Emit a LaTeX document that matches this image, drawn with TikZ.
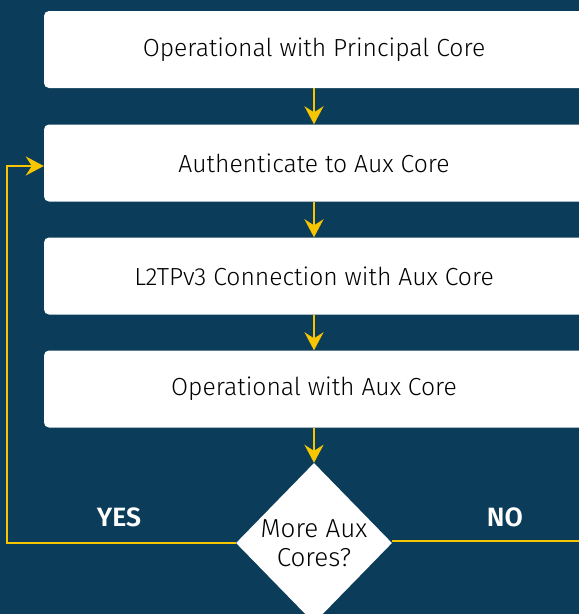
\documentclass[tikz,border=0pt]{standalone}
\usepackage{fontspec}
\setmainfont{Fira Sans}[UprightFont=* Light, BoldFont=* SemiBold]
\usetikzlibrary{arrows.meta,shapes.geometric}
\definecolor{bgnavy}{HTML}{0B3C59}
\definecolor{flowyellow}{HTML}{F7C600}
\tikzset{
  x=1pt, y=-1pt,
  stepbox/.style={draw=none, fill=white, rounded corners=5pt, minimum width=540pt,
    minimum height=77pt, text=black, font=\fontsize{24.7}{28}\selectfont,
    inner sep=0pt},
  flow/.style={draw=flowyellow, line width=2pt,
    -{Stealth[length=18pt, width=19pt, inset=6pt]}},
  plainflow/.style={draw=flowyellow, line width=2pt},
  decision/.style={diamond, fill=white, minimum width=156pt, minimum height=160pt,
    inner sep=0pt, align=center, text=black, font=\fontsize{26}{28.5}\selectfont},
  answer/.style={text=white, font=\bfseries\fontsize{26.5}{30}\selectfont}
}
\begin{document}
\begin{tikzpicture}
  \fill[bgnavy] (0,0) rectangle (579,614);
  \useasboundingbox (0,0) rectangle (579,614);
  \clip (0,0) rectangle (579,614);

  % process boxes, running past the right edge
  \node[stepbox] (op)   at (314,49.5) {Operational with Principal Core};
  \node[stepbox] (auth) at (314,163)  {Authenticate to Aux Core};
  \node[stepbox] (l2tp) at (314,276)  {L2TPv3 Connection with Aux Core};
  \node[stepbox] (aux)  at (314,389)  {Operational with Aux Core};

  % decision
  \node[decision] (more) at (314,543) {More Aux\\Cores?};

  % vertical flow
  \draw[flow] (op.south)   -- (auth.north);
  \draw[flow] (auth.south) -- (l2tp.north);
  \draw[flow] (l2tp.south) -- (aux.north);
  \draw[flow] (aux.south)  -- (more.north);

  % loop back on YES, exit on NO
  \coordinate (loopdown) at (7,543);
  \coordinate (loopup) at (7,166);
  \draw[flow] (more.west) -- (loopdown) -- (loopup) -- (auth.west |- loopup);
  \coordinate (noend) at (579,541);
  \draw[plainflow] (more.east |- noend) -- (noend);

  \node[answer] (yes) at (119,517) {YES};
  \node[answer] (no)  at (505,517) {NO};
\end{tikzpicture}
\end{document}
